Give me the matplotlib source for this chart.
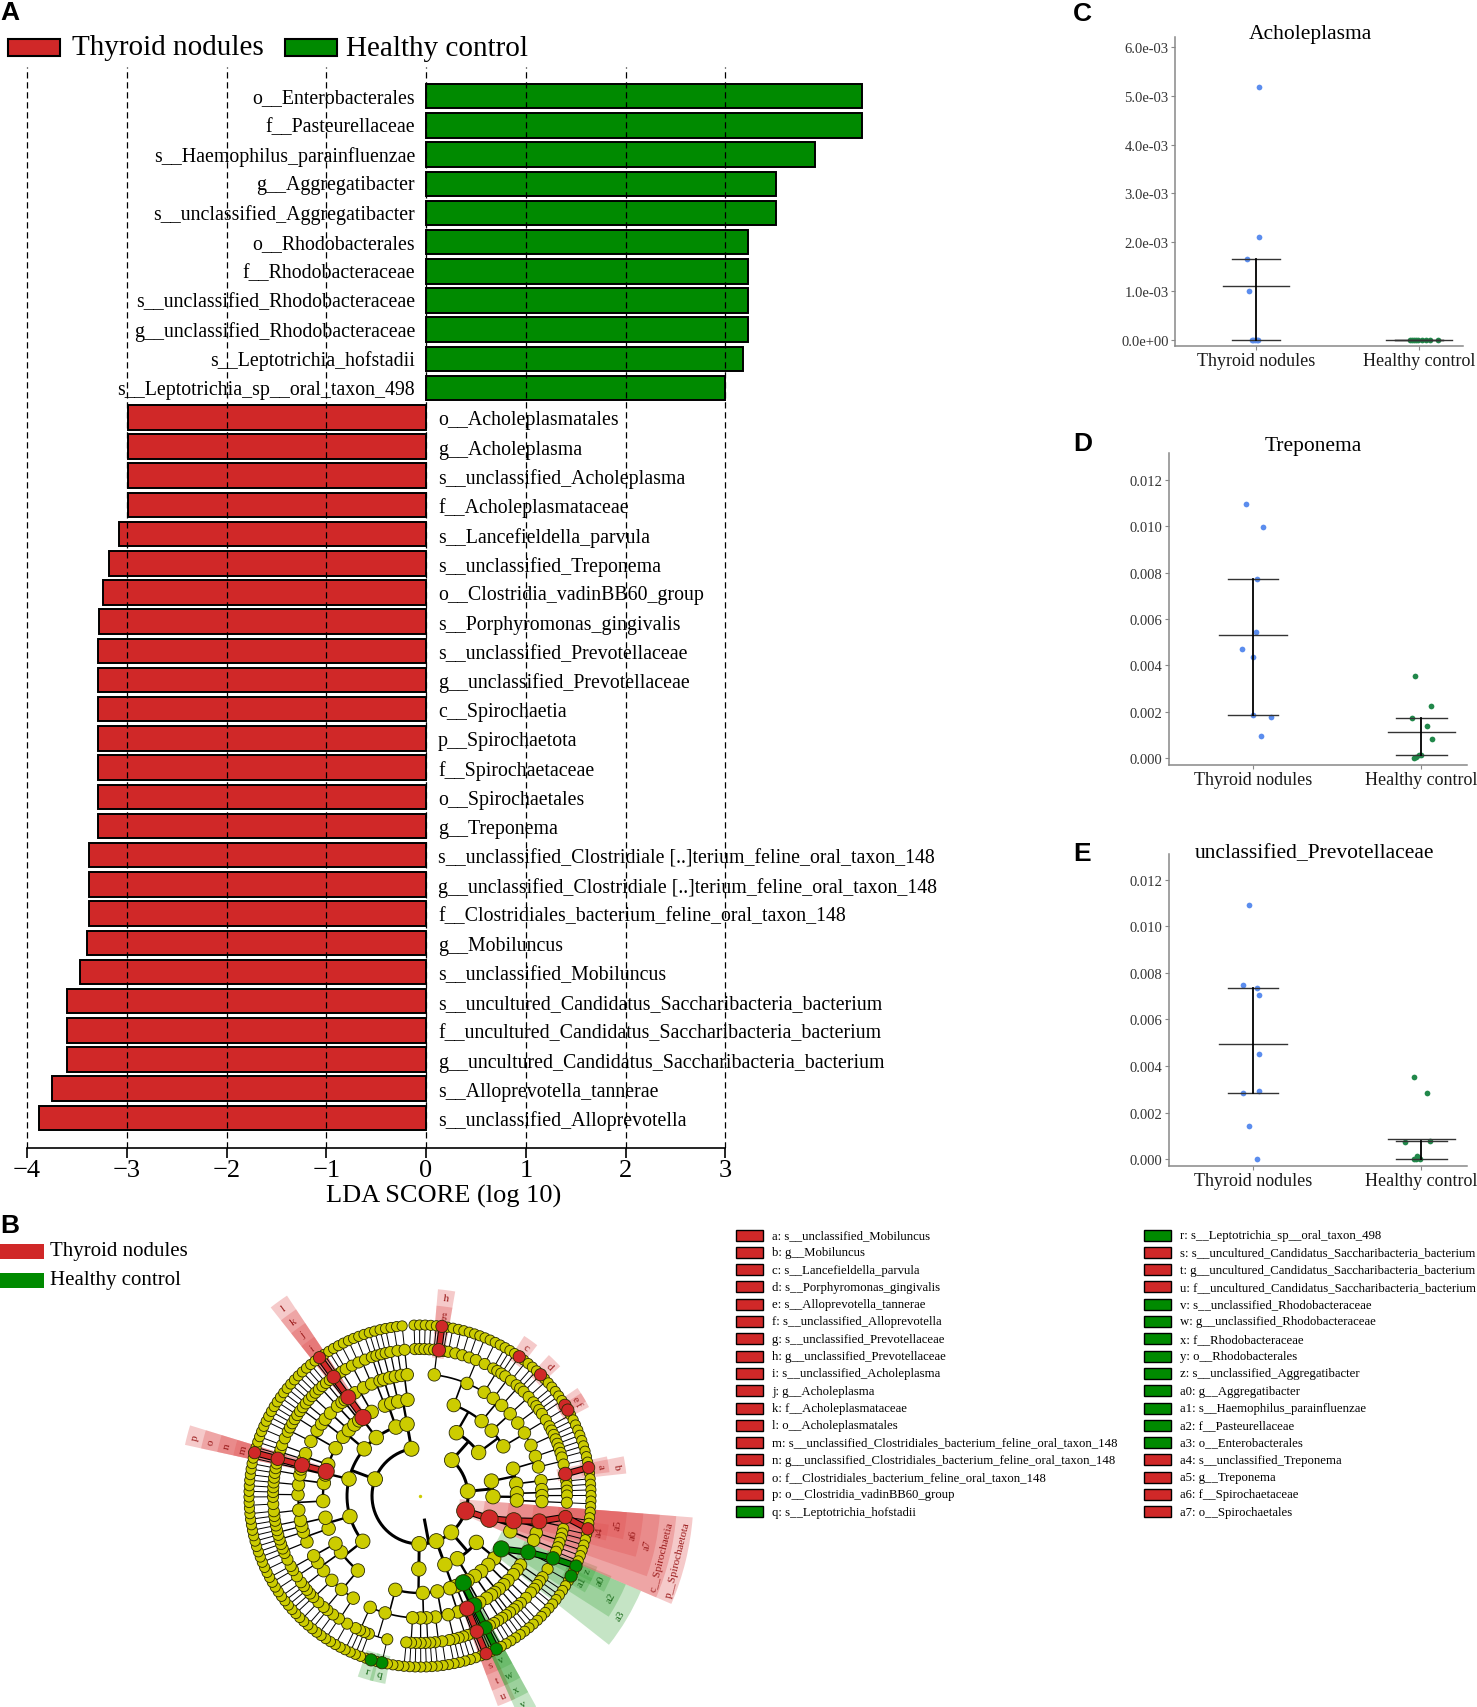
import numpy as np
import matplotlib.pyplot as plt
from matplotlib.patches import Rectangle, Wedge

plt.rcParams['font.family'] = ['Liberation Serif', 'DejaVu Serif']

W, H = 1477, 1708
RED, GREEN = '#D02828', '#008A00'
YEL = '#CCCC00'

# ---------------- panel A : LDA scores
lda_names = [
    'o__Enterobacterales', 'f__Pasteurellaceae', 's__Haemophilus_parainfluenzae',
    'g__Aggregatibacter', 's__unclassified_Aggregatibacter', 'o__Rhodobacterales',
    'f__Rhodobacteraceae', 's__unclassified_Rhodobacteraceae', 'g__unclassified_Rhodobacteraceae',
    's__Leptotrichia_hofstadii', 's__Leptotrichia_sp__oral_taxon_498',
    'o__Acholeplasmatales', 'g__Acholeplasma', 's__unclassified_Acholeplasma',
    'f__Acholeplasmataceae', 's__Lancefieldella_parvula', 's__unclassified_Treponema',
    'o__Clostridia_vadinBB60_group', 's__Porphyromonas_gingivalis',
    's__unclassified_Prevotellaceae', 'g__unclassified_Prevotellaceae', 'c__Spirochaetia',
    'p__Spirochaetota', 'f__Spirochaetaceae', 'o__Spirochaetales', 'g__Treponema',
    's__unclassified_Clostridiale [..]terium_feline_oral_taxon_148',
    'g__unclassified_Clostridiale [..]terium_feline_oral_taxon_148',
    'f__Clostridiales_bacterium_feline_oral_taxon_148', 'g__Mobiluncus',
    's__unclassified_Mobiluncus', 's__uncultured_Candidatus_Saccharibacteria_bacterium',
    'f__uncultured_Candidatus_Saccharibacteria_bacterium',
    'g__uncultured_Candidatus_Saccharibacteria_bacterium', 's__Alloprevotella_tannerae',
    's__unclassified_Alloprevotella']
lda_scores = [4.37, 4.37, 3.90, 3.51, 3.51, 3.23, 3.23, 3.23, 3.23, 3.18, 3.00,
              -2.99, -2.99, -2.99, -2.99, -3.08, -3.18, -3.24, -3.28, -3.29, -3.29, -3.29,
              -3.29, -3.29, -3.29, -3.29, -3.38, -3.38, -3.38, -3.40, -3.47, -3.60, -3.60,
              -3.60, -3.75, -3.88]
groups = ['Thyroid nodules', 'Healthy control']

# ---------------- panels C-E : relative abundance
ach_tn = [5.18e-3, 2.11e-3, 1.66e-3, 0.99e-3, 0, 0, 0, 0, 0]
ach_tn_dx = [0.02, 0.02, -0.055, -0.045, -0.026, -0.016, -0.006, 0.004, 0.012]
ach_hc = [0, 0, 0, 0, 0, 0, 0, 0, 0]
ach_hc_dx = [-0.057, -0.045, -0.033, -0.02, -0.006, 0.02, 0.045, 0.069, 0.117]
ach_stats = [(1.108e-3, 0.0, 1.66e-3), (0.0, 0.0, 0.0)]   # mean, q1, q3

tre_tn = [0.01095, 0.00997, 0.00772, 0.00542, 0.00470, 0.00438, 0.00185, 0.00178, 0.00095]
tre_tn_dx = [-0.043, 0.063, 0.024, 0.016, -0.067, 0.002, 0.002, 0.108, 0.051]
tre_hc = [0.00356, 0.00224, 0.00174, 0.00139, 0.00082, 0.00016, 0.00013, 0.00004, 0.0]
tre_hc_dx = [-0.037, 0.055, -0.057, 0.035, 0.065, 0.0, -0.014, -0.034, -0.047]
tre_stats = [(0.00530, 0.00185, 0.00772), (0.00114, 0.00016, 0.00174)]

pre_tn = [0.01090, 0.00749, 0.00737, 0.00706, 0.00453, 0.00295, 0.00284, 0.00143, 0.0]
pre_tn_dx = [-0.024, -0.061, 0.026, 0.034, 0.034, 0.037, -0.059, -0.022, 0.024]
pre_hc = [0.00354, 0.00286, 0.00079, 0.00074, 0.00014, 0.00007, 0.0, 0.0, 0.0]
pre_hc_dx = [-0.043, 0.03, 0.051, -0.097, -0.024, -0.014, -0.043, -0.01, -0.034]
pre_stats = [(0.00495, 0.00284, 0.00737), (0.00089, 0.0, 0.00079)]

ach_ticks = [0, 1e-3, 2e-3, 3e-3, 4e-3, 5e-3, 6e-3]
ach_ticklabels = ['0.0e+00', '1.0e-03', '2.0e-03', '3.0e-03', '4.0e-03', '5.0e-03', '6.0e-03']
rel_ticks = [0, 0.002, 0.004, 0.006, 0.008, 0.010, 0.012]
rel_ticklabels = ['0.000', '0.002', '0.004', '0.006', '0.008', '0.010', '0.012']

# ---------------- panel B : cladogram (phylum > class > order > family > genus = n species)
tree = [
    [[[[1, 1, 1, 1, 1, 1, 1, 1, 2, 1], [2, 1, 3], [1, 1, 1]], [[1, 2], [1, 1]]],
     [[[1, 2, 1]], [[1, 1], [1, 2, 1], [1, 1, 1]]]],
    [[[[1, 1, 1], [1, 2]], [[2, 1]]], [[[1, 1], [1]], [[2]]]],
    [[[[4, 1, 1], [1, 1]], [[1, 1]]]],
    [[[[2, 3], [1, 1], [1]], [[1, 1]], [[2], [1]]],
     [[[1, 1], [1]], [[1], [1, 1]], [[1, 1]], [[1]], [[1]]]],
    [[[[1], [1]], [[1, 1]]]],
    [[[[1, 1, 1], [2, 1]], [[1, 1], [1]], [[1, 1, 1], [7, 1], [1, 1, 1]]]],
    [[[[3, 1, 2], [1, 1], [2, 1, 1]], [[1, 1, 1], [2]], [[1, 1]]],
     [[[2, 1, 1, 1], [1]], [[1, 1], [1]]],
     [[[1, 1, 1, 2], [1, 1]], [[1, 1, 1], [1, 1]], [[1]], [[1]], [[1, 1], [1]],
      [[2, 1, 1, 1], [1, 1]]],
     [[[1, 1], [1]], [[1, 1, 1]]],
     [[[1, 1]], [[1], [1]], [[1]], [[1, 1, 1], [2]]],
     [[[1, 2], [1]], [[1]]]],
    [[[[1, 1], [1]], [[2], [1]]]],
]
clade_keys = ['a', 'b', 'c', 'd', 'e', 'f', 'g', 'h', 'i', 'j', 'k', 'l', 'm', 'n', 'o', 'p',
              'q', 'r', 's', 't', 'u', 'v', 'w', 'x', 'y', 'z', 'a0', 'a1', 'a2', 'a3',
              'a4', 'a5', 'a6', 'a7', 'c__Spirochaetia', 'p__Spirochaetota']
clade_paths = [(1, 0, 1, 0, 0, 0), (1, 0, 1, 0, 0), (0, 0, 1, 0, 0, 0), (0, 1, 0, 0, 0, 0),
               (0, 1, 1, 1, 1, 0), (0, 1, 1, 1, 1, 1), (0, 0, 0, 0, 5, 0), (0, 0, 0, 0, 5),
               (6, 4, 2, 0, 0, 0), (6, 4, 2, 0, 0), (6, 4, 2, 0), (6, 4, 2),
               (6, 2, 3, 0, 0, 0), (6, 2, 3, 0, 0), (6, 2, 3, 0), (6, 2, 3),
               (5, 0, 2, 1, 0, 3), (5, 0, 2, 1, 0, 5), (4, 0, 0, 0, 0, 0), (4, 0, 0, 0, 0),
               (4, 0, 0, 0), (3, 1, 3, 0, 0, 0), (3, 1, 3, 0, 0), (3, 1, 3, 0), (3, 1, 3),
               (3, 0, 0, 0, 0, 0), (3, 0, 0, 0, 0), (3, 0, 0, 0, 1, 0), (3, 0, 0, 0), (3, 0, 0),
               (2, 0, 0, 0, 0, 3), (2, 0, 0, 0, 0), (2, 0, 0, 0), (2, 0, 0), (2, 0), (2,)]
clade_group = [0] * 16 + [1, 1] + [0, 0, 0] + [1] * 9 + [0] * 6
clade_names = [
    's__unclassified_Mobiluncus', 'g__Mobiluncus', 's__Lancefieldella_parvula',
    's__Porphyromonas_gingivalis', 's__Alloprevotella_tannerae', 's__unclassified_Alloprevotella',
    's__unclassified_Prevotellaceae', 'g__unclassified_Prevotellaceae',
    's__unclassified_Acholeplasma', 'g__Acholeplasma', 'f__Acholeplasmataceae',
    'o__Acholeplasmatales', 's__unclassified_Clostridiales_bacterium_feline_oral_taxon_148',
    'g__unclassified_Clostridiales_bacterium_feline_oral_taxon_148',
    'f__Clostridiales_bacterium_feline_oral_taxon_148', 'o__Clostridia_vadinBB60_group',
    's__Leptotrichia_hofstadii', 's__Leptotrichia_sp__oral_taxon_498',
    's__uncultured_Candidatus_Saccharibacteria_bacterium',
    'g__uncultured_Candidatus_Saccharibacteria_bacterium',
    'f__uncultured_Candidatus_Saccharibacteria_bacterium', 's__unclassified_Rhodobacteraceae',
    'g__unclassified_Rhodobacteraceae', 'f__Rhodobacteraceae', 'o__Rhodobacterales',
    's__unclassified_Aggregatibacter', 'g__Aggregatibacter', 's__Haemophilus_parainfluenzae',
    'f__Pasteurellaceae', 'o__Enterobacterales', 's__unclassified_Treponema', 'g__Treponema',
    'f__Spirochaetaceae', 'o__Spirochaetales']

fig = plt.figure(figsize=(W / 100, H / 100), dpi=100)


def frect(x0, y0, x1, y1):
    return [x0 / W, 1 - y1 / H, (x1 - x0) / W, (y1 - y0) / H]


# overlay in pixel units for letters / legends
ov = fig.add_axes([0, 0, 1, 1], zorder=5)
ov.set_xlim(0, W)
ov.set_ylim(H, 0)
ov.axis('off')
ov.patch.set_alpha(0)

# ================= A
axA = fig.add_axes(frect(17, 68, 870, 1149))
ypos = -np.arange(len(lda_names))
cols = [GREEN if v > 0 else RED for v in lda_scores]
axA.barh(ypos, lda_scores, height=0.84, color=cols, edgecolor='black', linewidth=1.4, zorder=2)
for y, name, v in zip(ypos, lda_names, lda_scores):
    if v > 0:
        axA.text(-0.11, y + 0.05, name, ha='right', va='center_baseline', fontsize=14.3, zorder=3)
    else:
        axA.text(0.12, y, name, ha='left', va='center_baseline', fontsize=14.3, zorder=3)
for xv in range(-4, 4):
    axA.axvline(xv, color='black', lw=0.9, ls=(0, (5, 3)), zorder=4)
axA.set_xlim(-4.1, 4.45)
axA.set_ylim(-36.03, 1.0)
for s in ['top', 'right', 'left']:
    axA.spines[s].set_visible(False)
axA.spines['bottom'].set_bounds(-4, 3)
axA.spines['bottom'].set_linewidth(1.2)
axA.set_xticks(range(-4, 4))
axA.tick_params(axis='x', length=7, width=1.2, labelsize=19, pad=1)
axA.set_yticks([])
axA.set_xlabel('LDA SCORE (log 10)', fontsize=19, labelpad=2)

# legend A
ov.add_patch(Rectangle((8, 40), 52, 17, fc=RED, ec='black', lw=1.5))
ov.text(72, 48, groups[0], fontsize=21, va='center')
ov.add_patch(Rectangle((285, 40), 52, 17, fc=GREEN, ec='black', lw=1.5))
ov.text(346, 49, groups[1], fontsize=21, va='center')


# ================= C, D, E
def dot_panel(rect, title, title_xy, tn, tn_dx, hc, hc_dx, stats, ylim, ticks, ticklabels):
    ax = fig.add_axes(rect)
    for k, (vals, dx, col) in enumerate([(tn, tn_dx, '#5B8DEE'), (hc, hc_dx, '#21884A')]):
        x0 = k + 1
        ax.scatter(np.array(dx) + x0, vals, s=17, color=col, zorder=3, linewidths=0)
        m, q1, q3 = stats[k]
        ax.plot([x0 - 0.2, x0 + 0.2], [m, m], color='#333333', lw=1.0, zorder=4)
        ax.plot([x0 - 0.15, x0 + 0.15], [q1, q1], color='#333333', lw=1.0, zorder=4)
        ax.plot([x0 - 0.15, x0 + 0.15], [q3, q3], color='#333333', lw=1.0, zorder=4)
        ax.plot([x0, x0], [q1, q3], color='black', lw=1.3, zorder=4)
    ax.set_xlim(0.503, 2.27)
    ax.set_ylim(*ylim)
    ax.set_xticks([1, 2])
    ax.set_xticklabels(groups, fontsize=13, color='#1a1a1a')
    ax.set_yticks(ticks)
    ax.set_yticklabels(ticklabels, fontsize=10.5, color='#333333')
    for s in ['top', 'right']:
        ax.spines[s].set_visible(False)
    for s in ['left', 'bottom']:
        ax.spines[s].set_color('#888888')
        ax.spines[s].set_linewidth(1.1)
    ax.tick_params(length=3, width=0.8, color='#888888', pad=1.5)
    ov.text(title_xy[0], title_xy[1], title, fontsize=15.5, ha='center', va='center')


dot_panel(frect(1175, 38, 1463, 347), 'Acholeplasma', (1310, 34), ach_tn, ach_tn_dx, ach_hc,
          ach_hc_dx, ach_stats, (-0.13e-3, 6.21e-3), ach_ticks, ach_ticklabels)
dot_panel(frect(1169, 454, 1467, 766), 'Treponema', (1313, 446), tre_tn, tre_tn_dx, tre_hc,
          tre_hc_dx, tre_stats, (-0.00029, 0.01315), rel_ticks, rel_ticklabels)
dot_panel(frect(1169, 855, 1467, 1167), 'unclassified_Prevotellaceae', (1315, 854), pre_tn,
          pre_tn_dx, pre_hc, pre_hc_dx, pre_stats, (-0.00029, 0.0131), rel_ticks, rel_ticklabels)

# panel letters
for letter, (px, py) in zip('ACDEB', [(0, 13), (1073, 14), (1073, 444), (1073, 854), (0, 1226)]):
    ov.text(px, py, letter, fontsize=19, fontweight='bold', family='Liberation Sans',
            va='center', ha='left')

# ================= B legends
ov.add_patch(Rectangle((0, 1245), 44, 15, fc=RED, ec='none'))
ov.text(50, 1252, groups[0], fontsize=15, va='center')
ov.add_patch(Rectangle((0, 1274), 44, 15, fc=GREEN, ec='none'))
ov.text(50, 1281, groups[1], fontsize=15, va='center')

nrow = 17
for k, (key, name, g) in enumerate(zip(clade_keys, clade_names, clade_group)):
    col, row = divmod(k, nrow)
    bx = 736 if col == 0 else 1144
    by = 1236 + row * 17.3
    ov.add_patch(Rectangle((bx, by - 5.5), 27, 11, fc=[RED, GREEN][g], ec='black', lw=1.0))
    ov.text(bx + 36, by, key + ': ' + name, fontsize=9.2, va='center')

# ================= B cladogram
R_LEVEL = [23, 48, 73, 97, 122, 147, 171]
NODE_D = [14.5, 15, 14.5, 13.5, 12.5, 11.2, 10.2]
LINE_W = [2.2, 2.1, 1.7, 1.2, 0.9, 0.7]
CX, CY = 420, 1497


def count_leaves(spec, level):
    if level == 5:
        return spec
    return sum(count_leaves(c, level + 1) for c in spec)


n_leaf = count_leaves(tree, 0)
step = 356.0 / (n_leaf - 1)
leaf_i = [0]


def build(spec, path, level):
    kids = []
    if level == 5:
        for s in range(spec):
            a = 92 - leaf_i[0] * step
            leaf_i[0] += 1
            kids.append(dict(path=path + (s,), level=6, ang=a, kids=[], hi=a, lo=a))
    else:
        kids = [build(c, path + (i,), level + 1) for i, c in enumerate(spec)]
    return dict(path=path, level=level, ang=np.mean([k['ang'] for k in kids]), kids=kids,
                hi=kids[0]['hi'], lo=kids[-1]['lo'])


root = build(tree, (), 0)
nodes = {}


def collect(nd):
    nodes[nd['path']] = nd
    for k in nd['kids']:
        collect(k)


collect(root)

axB = fig.add_axes(frect(CX - 300, CY - 300, CX + 300, CY + 300), zorder=1)
axB.set_xlim(-300, 300)
axB.set_ylim(-300, 300)
axB.axis('off')


def pol(r, a):
    t = np.radians(a)
    return r * np.cos(t), r * np.sin(t)


hl = {p: g for p, g in zip(clade_paths, clade_group)}
LAB_R = lambda lv: 183 + (6 - lv) * 16.5

# shaded wedges and labels
for key, p, g in zip(clade_keys, clade_paths, clade_group):
    nd = nodes[p]
    lv = nd['level']
    a_hi, a_lo = nd['hi'] + step / 2, nd['lo'] - step / 2
    mid = (a_hi + a_lo) / 2
    half = max((a_hi - a_lo) / 2, 2.4)
    r_in = R_LEVEL[lv] - 8
    r_out = LAB_R(lv) + 8
    fc = ['#E05050', '#40A840'][g]
    axB.add_patch(Wedge((0, 0), r_out, mid - half, mid + half, width=r_out - r_in,
                        fc=fc, ec='none', alpha=0.3, zorder=1))
    x, y = pol(LAB_R(lv), mid)
    rot = mid - 90
    while rot > 90:
        rot -= 180
    while rot < -90:
        rot += 180
    axB.text(x, y, key, fontsize=8, color=['#9B1C1C', '#1B6B1B'][g], rotation=rot,
             ha='center', va='center', rotation_mode='anchor', zorder=6)

# branches: radial from parent to the child ring, then arc along child ring
for p, nd in nodes.items():
    if not nd['kids'] or nd['level'] == 6:
        continue
    lv = nd['level']
    r0 = R_LEVEL[lv]
    r1 = R_LEVEL[lv + 1]
    x0, y0 = pol(r0, nd['ang'])
    x1, y1 = pol(r1, nd['ang'])
    axB.plot([x0, x1], [y0, y1], color='black', lw=LINE_W[lv], zorder=2,
             solid_capstyle='butt')
    angs = [k['ang'] for k in nd['kids']] + [nd['ang']]
    ta = np.linspace(min(angs), max(angs), 200)
    xa, ya = pol(r1, ta)
    axB.plot(xa, ya, color='black', lw=LINE_W[lv], zorder=2)
    for k in nd['kids']:
        if p in hl and k['path'] in hl:
            col = [RED, GREEN][hl[k['path']]]
            xs, ys = pol(np.array([r0, r1]), np.array([nd['ang'], k['ang']]))
            axB.plot(xs, ys, color='black', lw=5.0, zorder=3, solid_capstyle='round')
            axB.plot(xs, ys, color=col, lw=3.4, zorder=3, solid_capstyle='round')

# nodes
xs, ys, ss, cs = [], [], [], []
for p, nd in nodes.items():
    if p == ():
        continue
    lv = nd['level']
    x, y = pol(R_LEVEL[lv], nd['ang'])
    d = NODE_D[lv] * (1.2 if p in hl else 1.0)
    xs.append(x)
    ys.append(y)
    ss.append((d / 1.389) ** 2)
    cs.append([RED, GREEN][hl[p]] if p in hl else YEL)
order = np.argsort([c != YEL for c in cs], kind='stable')
axB.scatter(np.array(xs)[order], np.array(ys)[order], s=np.array(ss)[order],
            c=[cs[i] for i in order], edgecolors='#2a2a00', linewidths=0.6, zorder=4)
axB.scatter([0], [0], s=6, c=YEL, zorder=4, linewidths=0)

fig.savefig('out.png', dpi=100)
